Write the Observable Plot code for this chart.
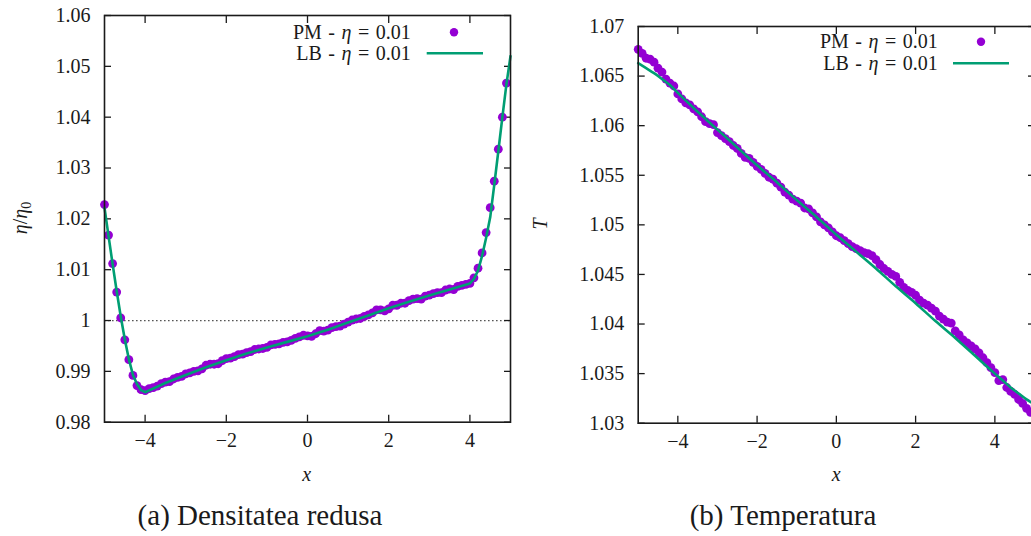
<!DOCTYPE html>
<html><head><meta charset="utf-8">
<script src="https://cdn.jsdelivr.net/npm/d3@7"></script>
<script src="https://cdn.jsdelivr.net/npm/@observablehq/plot@0.6"></script>
<style>
html,body{margin:0;padding:0;background:#fff;overflow:hidden}
#wrap{position:relative;width:1031px;height:536px;overflow:hidden;font-family:"Liberation Serif","Times New Roman",Tinos,"DejaVu Serif",serif;color:#1a1a1a}
.abs{position:absolute;white-space:nowrap;line-height:1}
.r{transform:translate(-100%,-50%)}
.c{transform:translate(-50%,-50%)}
.rot{transform:translate(-50%,-50%) rotate(-90deg)}
.leg{font-size:20px}
.legw{font-size:20px;word-spacing:1.5px}
.cap{font-size:29px}
.pl{position:absolute;top:0}
sub{font-size:0.7em;vertical-align:-0.25em;font-style:normal}
</style></head><body><div id="wrap"></div>
<script>
// ---------- data ----------
const xPM = [-5.0,-4.9,-4.8,-4.7,-4.6,-4.5,-4.4,-4.3,-4.2,-4.1,-4.0,-3.9,-3.8,-3.7,-3.6,-3.5,-3.4,-3.3,-3.2,-3.1,-3.0,-2.9,-2.8,-2.7,-2.6,-2.5,-2.4,-2.3,-2.2,-2.1,-2.0,-1.9,-1.8,-1.7,-1.6,-1.5,-1.4,-1.3,-1.2,-1.1,-1.0,-0.9,-0.8,-0.7,-0.6,-0.5,-0.4,-0.3,-0.2,-0.1,0.0,0.1,0.2,0.3,0.4,0.5,0.6,0.7,0.8,0.9,1.0,1.1,1.2,1.3,1.4,1.5,1.6,1.7,1.8,1.9,2.0,2.1,2.2,2.3,2.4,2.5,2.6,2.7,2.8,2.9,3.0,3.1,3.2,3.3,3.4,3.5,3.6,3.7,3.8,3.9,4.0,4.1,4.2,4.3,4.4,4.5,4.6,4.7,4.8,4.9];

const densPM = [1.0228,1.0168,1.0112,1.0056,1.0005,0.9962,0.9923,0.9892,0.9872,0.9864,0.9862,0.9866,0.9868,0.9871,0.9876,0.9879,0.9880,0.9885,0.9888,0.9890,0.9895,0.9897,0.9900,0.9901,0.9905,0.9912,0.9914,0.9914,0.9915,0.9921,0.9925,0.9926,0.9929,0.9933,0.9934,0.9937,0.9939,0.9943,0.9944,0.9945,0.9947,0.9952,0.9953,0.9954,0.9957,0.9958,0.9961,0.9965,0.9968,0.9971,0.9970,0.9969,0.9974,0.9980,0.9979,0.9981,0.9986,0.9988,0.9989,0.9993,0.9997,1.0001,1.0003,1.0004,1.0008,1.0011,1.0015,1.0021,1.0021,1.0019,1.0023,1.0030,1.0030,1.0034,1.0034,1.0039,1.0042,1.0043,1.0042,1.0048,1.0050,1.0053,1.0055,1.0055,1.0060,1.0062,1.0061,1.0067,1.0069,1.0071,1.0073,1.0084,1.0103,1.0133,1.0173,1.0222,1.0274,1.0337,1.0400,1.0467];

const xLBdens = [-5,-4.9,-4.8,-4.7,-4.6,-4.5,-4.4,-4.3,-4.2,-4.1,-4,-3.5,-3,-2.5,-2,-1.5,-1,-0.5,0,0.5,1,1.5,2,2.5,3,3.5,4,4.1,4.2,4.3,4.4,4.5,4.6,4.7,4.8,4.9,5];
const densLB = [1.0222,1.0166,1.0111,1.0058,1.0008,0.9963,0.9924,0.9893,0.9875,0.9863,0.9859,0.9877,0.9893,0.9908,0.9922,0.9935,0.9947,0.9958,0.9969,0.9982,0.9996,1.0010,1.0024,1.0037,1.0049,1.0061,1.0073,1.0082,1.0098,1.0127,1.0163,1.0203,1.0267,1.0333,1.0400,1.0465,1.0520];

const tempPM = [1.0677,1.0673,1.0668,1.0667,1.0664,1.0658,1.0654,1.0647,1.0643,1.0640,1.0632,1.0627,1.0623,1.0621,1.0617,1.0614,1.0609,1.0604,1.0602,1.0601,1.0593,1.0590,1.0587,1.0584,1.0580,1.0577,1.0572,1.0568,1.0567,1.0563,1.0559,1.0556,1.0552,1.0548,1.0546,1.0542,1.0538,1.0533,1.0530,1.0526,1.0524,1.0522,1.0517,1.0516,1.0512,1.0508,1.0503,1.0500,1.0497,1.0493,1.0489,1.0487,1.0484,1.0481,1.0478,1.0476,1.0474,1.0472,1.0471,1.0469,1.0465,1.0460,1.0456,1.0453,1.0450,1.0448,1.0442,1.0437,1.0434,1.0432,1.0429,1.0424,1.0421,1.0419,1.0416,1.0413,1.0408,1.0405,1.0402,1.0401,1.0393,1.0389,1.0384,1.0381,1.0378,1.0375,1.0371,1.0366,1.0361,1.0356,1.0351,1.0343,1.0344,1.0336,1.0332,1.0329,1.0324,1.0320,1.0315,1.0311];

const xLBtemp = [-5,-4.8,-4.6,-4.4,-4.2,-4,-3.5,-3,-2.5,-2,-1.5,-1,-0.5,0,0.5,1,1.5,2,2.5,3,3.5,4,4.2,4.4,4.6,4.8,5];
const tempLB = [1.0663,1.0658,1.0653,1.0647,1.0641,1.0633,1.0614,1.0596,1.0578,1.0560,1.0543,1.0525,1.0508,1.0490,1.0473,1.0456,1.0438,1.0421,1.0403,1.0386,1.0368,1.0350,1.0343,1.0336,1.0330,1.0324,1.0319];

const xTicks = [-4,-2,0,2,4];
const yTicksDens = [0.98,0.99,1,1.01,1.02,1.03,1.04,1.05,1.06];
const yTicksTemp = [1.03,1.035,1.04,1.045,1.05,1.055,1.06,1.065,1.07];
const refLine = [1];

const seriesLabels = ["PM - ", "LB - "];
const captions = ["(a) Densitatea redusa", "(b) Temperatura"];

// ---------- drawing ----------
const PURPLE = "#9400d3", GREEN = "#009e73", INK = "#1a1a1a";
const SERIF = "'Liberation Serif', 'Times New Roman', Tinos, 'DejaVu Serif', serif";
const fmtX = d => d < 0 ? "\u2212" + (-d) : String(d);
const fmtY = d => String(Math.round(d * 1000) / 1000);

function panel({yDom, yTicks, pmY, lbX, lbY, ml, mr, mt, mb, extra, curve}) {
  return Plot.plot({
    width: 520, height: 460,
    marginLeft: ml, marginRight: mr, marginTop: mt, marginBottom: mb,
    style: {fontFamily: SERIF, fontSize: "20px", color: INK, background: "transparent", overflow: "visible"},
    x: {domain: [-5, 5], label: null},
    y: {domain: yDom, label: null},
    marks: [
      ...extra,
      Plot.axisY(yTicks, {anchor: "left", tickSize: -7, tickPadding: 21, tickFormat: fmtY, label: null, strokeWidth: 1.3, fontFamily: SERIF}),
      Plot.axisY(yTicks, {anchor: "right", tickSize: -7, tickFormat: () => "", label: null, strokeWidth: 1.3}),
      Plot.axisX(xTicks, {anchor: "bottom", tickSize: -7, tickPadding: 18, tickFormat: fmtX, label: null, strokeWidth: 1.3, fontFamily: SERIF}),
      Plot.axisX(xTicks, {anchor: "top", tickSize: -7, tickFormat: () => "", label: null, strokeWidth: 1.3}),
      Plot.dot(xPM.map((x, i) => ({x, y: pmY[i]})), {x: "x", y: "y", r: 4.4, fill: PURPLE, stroke: "none"}),
      Plot.line(lbX.map((x, i) => ({x, y: lbY[i]})), {x: "x", y: "y", stroke: GREEN, strokeWidth: 2.6, curve}),
      Plot.frame({stroke: INK, strokeWidth: 1.6})
    ]
  });
}

const wrap = document.getElementById("wrap");

const pA = panel({yDom: [0.98, 1.06], yTicks: yTicksDens, pmY: densPM, lbX: xLBdens, lbY: densLB,
  ml: 104, mr: 10, mt: 15, mb: 38.3, curve: "linear",
  extra: [Plot.ruleY(refLine, {stroke: "#555", strokeWidth: 1.2, strokeDasharray: "1.6,2.4"})]});
pA.classList.add("pl"); pA.style.left = "0px";
wrap.appendChild(pA);

const pB = panel({yDom: [1.03, 1.07], yTicks: yTicksTemp, pmY: tempPM, lbX: xLBtemp, lbY: tempLB,
  ml: 117.7, mr: 6, mt: 26, mb: 37.3, curve: "monotone-x", extra: []});
pB.classList.add("pl"); pB.style.left = "520px";
wrap.appendChild(pB);

function addText(html, x, y, cls) {
  const d = document.createElement("div");
  d.className = "abs " + cls;
  d.style.left = x + "px"; d.style.top = y + "px";
  d.innerHTML = html;
  wrap.appendChild(d);
}
const eta = "<i>\u03b7</i>";
const legTail = " = 0.01";
// legends
addText(seriesLabels[0] + eta + legTail, 410.7, 31.5, "legw r");
addText(seriesLabels[1] + eta + legTail, 410.7, 52.5, "legw r");
addText(seriesLabels[0] + eta + legTail, 937.7, 41, "legw r");
addText(seriesLabels[1] + eta + legTail, 937.7, 62.5, "legw r");
// axis labels
addText("<i>x</i>", 306.7, 474, "leg c");
addText("<i>x</i>", 836.3, 474, "leg c");
addText("<i>\u03b7</i>/<i>\u03b7</i><sub>0</sub>", 22, 218, "leg rot");
addText("<i>T</i>", 540, 224, "leg rot");
// captions
addText(captions[0], 260, 515, "cap c");
addText(captions[1], 783, 515, "cap c");

// legend swatches
const ns = "http://www.w3.org/2000/svg";
const sw = document.createElementNS(ns, "svg");
sw.setAttribute("width", 1031); sw.setAttribute("height", 536);
sw.style.position = "absolute"; sw.style.left = "0"; sw.style.top = "0";
sw.innerHTML = `
<circle cx="454" cy="32.3" r="4.2" fill="${PURPLE}"/>
<line x1="426.7" x2="483" y1="53.3" y2="53.3" stroke="${GREEN}" stroke-width="2.6"/>
<circle cx="981" cy="41.7" r="4.2" fill="${PURPLE}"/>
<line x1="953" x2="1009" y1="63.3" y2="63.3" stroke="${GREEN}" stroke-width="2.6"/>`;
wrap.appendChild(sw);
</script>
</body></html>
